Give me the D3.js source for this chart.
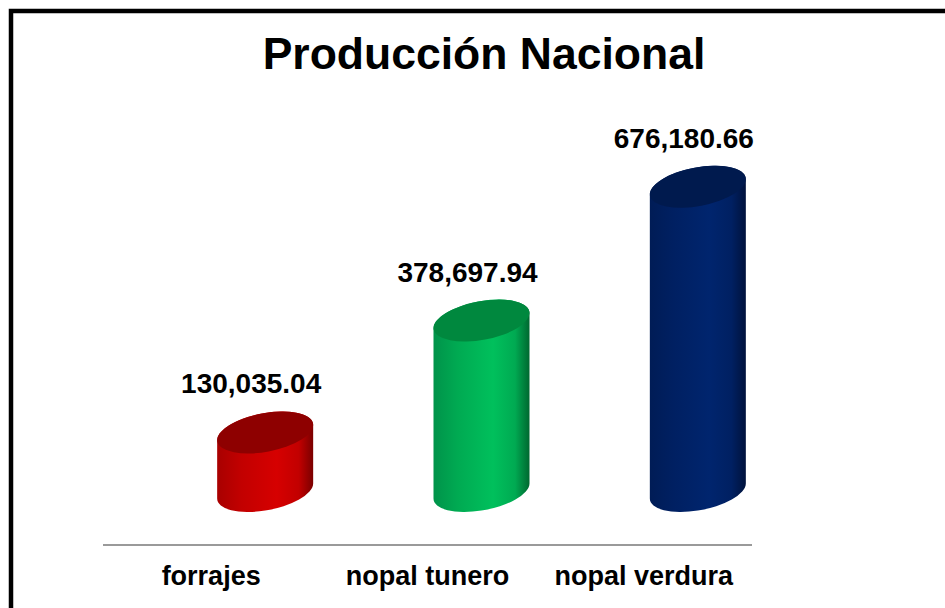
<!DOCTYPE html>
<html>
<head>
<meta charset="utf-8">
<script src="https://cdn.jsdelivr.net/npm/d3@7"></script>
<style>
  body { margin: 0; background: #fff; }
  svg text { font-family: "Liberation Sans", Arial, sans-serif; font-weight: bold; fill: #000; }
</style>
</head>
<body>
<div id="chart"></div>
<script>
var categories = ["forrajes", "nopal tunero", "nopal verdura"];
var values = [130035.04, 378697.94, 676180.66];
var valueLabels = ["130,035.04", "378,697.94", "676,180.66"];
var chartTitle = "Producción Nacional";

// body gradient: [left edge, mid, bright, right edge], top cap colour
var bodyColors = [
  ["#a80000", "#c20000", "#d60000", "#7a0000"],
  ["#00934a", "#00aa52", "#00c05c", "#006830"],
  ["#001c56", "#002062", "#00256e", "#00123c"]
];
var capColors = ["#8e0000", "#00883e", "#001a4e"];

var width = 945, height = 608;
var baseY = 491;        // centre of the bottom ellipses
var depthShift = 54;    // cylinders sit right of the category centres
var rx = 48.7, ry = 19.3, tilt = -10.6;

var svg = d3.select("#chart").append("svg")
  .attr("width", width)
  .attr("height", height);

// frame
svg.append("rect")
  .attr("x", 11).attr("y", 11)
  .attr("width", width + 20).attr("height", height + 20)
  .attr("fill", "none")
  .attr("stroke", "#000")
  .attr("stroke-width", 4.5);

svg.append("text")
  .attr("x", 484).attr("y", 69)
  .attr("text-anchor", "middle")
  .style("font-size", "44.5px")
  .text(chartTitle);

var x = d3.scaleBand().domain(categories).range([103, 752]).padding(0);
var h = d3.scaleLinear().domain([0, 700000]).range([0, 315]);

var defs = svg.append("defs");
bodyColors.forEach(function(c, i) {
  var g = defs.append("linearGradient")
    .attr("id", "body" + i)
    .attr("x1", 0).attr("x2", 1).attr("y1", 0).attr("y2", 0);
  g.append("stop").attr("offset", "0%").attr("stop-color", c[0]);
  g.append("stop").attr("offset", "25%").attr("stop-color", c[1]);
  g.append("stop").attr("offset", "62%").attr("stop-color", c[2]);
  g.append("stop").attr("offset", "85%").attr("stop-color", c[1]);
  g.append("stop").attr("offset", "100%").attr("stop-color", c[3]);
});

// extreme left/right points of the tilted ellipse
var th = tilt * Math.PI / 180;
var t0 = Math.atan2(-ry * Math.sin(th), rx * Math.cos(th));
function pt(cx, cy, t) {
  return [cx + rx * Math.cos(th) * Math.cos(t) - ry * Math.sin(th) * Math.sin(t),
          cy + rx * Math.sin(th) * Math.cos(t) + ry * Math.cos(th) * Math.sin(t)];
}

var bars = svg.selectAll(".cyl")
  .data(categories)
  .enter()
  .append("g")
  .attr("class", "cyl");

bars.append("path")
  .attr("fill", function(d, i) { return "url(#body" + i + ")"; })
  .attr("d", function(d, i) {
    var cx = x(d) + x.bandwidth() / 2 + depthShift;
    var top = baseY - h(values[i]);
    var bR = pt(cx, baseY, t0), bL = pt(cx, baseY, t0 + Math.PI);
    var tR = pt(cx, top, t0), tL = pt(cx, top, t0 + Math.PI);
    var a = " " + rx + " " + ry + " " + tilt + " 0 ";
    return "M" + tL + "L" + bL + "A" + a + "0 " + bR + "L" + tR + "A" + a + "0 " + tL + "Z";
  });

bars.append("ellipse")
  .attr("fill", function(d, i) { return capColors[i]; })
  .attr("rx", rx).attr("ry", ry)
  .attr("transform", function(d, i) {
    var cx = x(d) + x.bandwidth() / 2 + depthShift;
    return "translate(" + cx + "," + (baseY - h(values[i])) + ") rotate(" + tilt + ")";
  });

bars.append("text")
  .attr("text-anchor", "middle")
  .style("font-size", "28px")
  .attr("x", function(d) { return x(d) + x.bandwidth() / 2 + 40; })
  .attr("y", function(d, i) { return baseY - h(values[i]) - 39; })
  .text(function(d, i) { return valueLabels[i]; });

// category axis
svg.append("line")
  .attr("x1", 103).attr("x2", 752)
  .attr("y1", 545).attr("y2", 545)
  .attr("stroke", "#9a9a9a")
  .attr("stroke-width", 2);

svg.selectAll(".cat")
  .data(categories)
  .enter()
  .append("text")
  .attr("class", "cat")
  .attr("text-anchor", "middle")
  .style("font-size", "27px")
  .attr("x", function(d) { return x(d) + x.bandwidth() / 2; })
  .attr("y", 585)
  .text(function(d) { return d; });
</script>
</body>
</html>
